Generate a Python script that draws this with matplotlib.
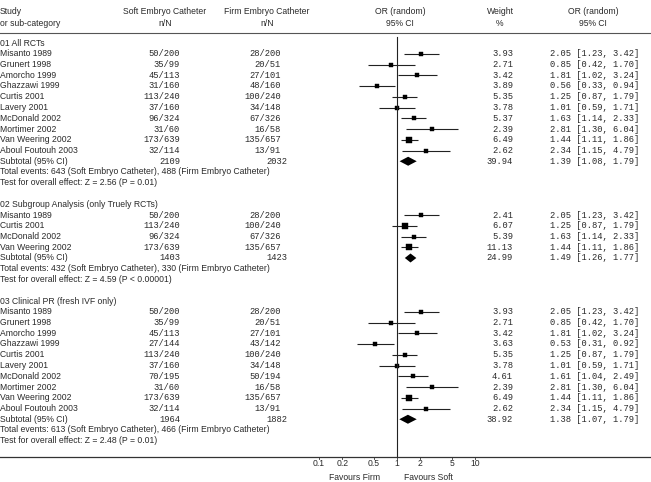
import matplotlib
matplotlib.use("Agg")
import matplotlib.pyplot as plt

# ---------------- data ----------------
s1_title = "01 All RCTs"
s1_studies = ["Misanto 1989", "Grunert 1998", "Amorcho 1999", "Ghazzawi 1999", "Curtis 2001",
              "Lavery 2001", "McDonald 2002", "Mortimer 2002", "Van Weering 2002", "Aboul Foutouh 2003"]
s1_soft = ["50/200", "35/99", "45/113", "31/160", "113/240", "37/160", "96/324", "31/60", "173/639", "32/114"]
s1_firm = ["28/200", "20/51", "27/101", "48/160", "100/240", "34/148", "67/326", "16/58", "135/657", "13/91"]
s1_weight = [3.93, 2.71, 3.42, 3.89, 5.35, 3.78, 5.37, 2.39, 6.49, 2.62]
s1_or = [2.05, 0.85, 1.81, 0.56, 1.25, 1.01, 1.63, 2.81, 1.44, 2.34]
s1_lo = [1.23, 0.42, 1.02, 0.33, 0.87, 0.59, 1.14, 1.30, 1.11, 1.15]
s1_hi = [3.42, 1.70, 3.24, 0.94, 1.79, 1.71, 2.33, 6.04, 1.86, 4.79]
s1_total = ["2109", "2032", 39.94, 1.39, 1.08, 1.79]
s1_events = "Total events: 643 (Soft Embryo Catheter), 488 (Firm Embryo Catheter)"
s1_test = "Test for overall effect: Z = 2.56 (P = 0.01)"

s2_title = "02 Subgroup Analysis (only Truely RCTs)"
s2_studies = ["Misanto 1989", "Curtis 2001", "McDonald 2002", "Van Weering 2002"]
s2_soft = ["50/200", "113/240", "96/324", "173/639"]
s2_firm = ["28/200", "100/240", "67/326", "135/657"]
s2_weight = [2.41, 6.07, 5.39, 11.13]
s2_or = [2.05, 1.25, 1.63, 1.44]
s2_lo = [1.23, 0.87, 1.14, 1.11]
s2_hi = [3.42, 1.79, 2.33, 1.86]
s2_total = ["1403", "1423", 24.99, 1.49, 1.26, 1.77]
s2_events = "Total events: 432 (Soft Embryo Catheter), 330 (Firm Embryo Catheter)"
s2_test = "Test for overall effect: Z = 4.59 (P < 0.00001)"

s3_title = "03 Clinical PR (fresh IVF only)"
s3_studies = ["Misanto 1989", "Grunert 1998", "Amorcho 1999", "Ghazzawi 1999", "Curtis 2001",
              "Lavery 2001", "McDonald 2002", "Mortimer 2002", "Van Weering 2002", "Aboul Foutouh 2003"]
s3_soft = ["50/200", "35/99", "45/113", "27/144", "113/240", "37/160", "70/195", "31/60", "173/639", "32/114"]
s3_firm = ["28/200", "20/51", "27/101", "43/142", "100/240", "34/148", "50/194", "16/58", "135/657", "13/91"]
s3_weight = [3.93, 2.71, 3.42, 3.63, 5.35, 3.78, 4.61, 2.39, 6.49, 2.62]
s3_or = [2.05, 0.85, 1.81, 0.53, 1.25, 1.01, 1.61, 2.81, 1.44, 2.34]
s3_lo = [1.23, 0.42, 1.02, 0.31, 0.87, 0.59, 1.04, 1.30, 1.11, 1.15]
s3_hi = [3.42, 1.70, 3.24, 0.92, 1.79, 1.71, 2.49, 6.04, 1.86, 4.79]
s3_total = ["1964", "1882", 38.92, 1.38, 1.07, 1.79]
s3_events = "Total events: 613 (Soft Embryo Catheter), 466 (Firm Embryo Catheter)"
s3_test = "Test for overall effect: Z = 2.48 (P = 0.01)"

axis_ticks = [0.1, 0.2, 0.5, 1, 2, 5, 10]
axis_ticklabels = ["0.1", "0.2", "0.5", "1", "2", "5", "10"]

sections = [
    (s1_title, s1_studies, s1_soft, s1_firm, s1_weight, s1_or, s1_lo, s1_hi, s1_total, s1_events, s1_test),
    (s2_title, s2_studies, s2_soft, s2_firm, s2_weight, s2_or, s2_lo, s2_hi, s2_total, s2_events, s2_test),
    (s3_title, s3_studies, s3_soft, s3_firm, s3_weight, s3_or, s3_lo, s3_hi, s3_total, s3_events, s3_test),
]

# ---------------- layout ----------------
W, H = 651, 482
fig = plt.figure(figsize=(W / 100, H / 100), dpi=100)
fig.patch.set_facecolor("white")
ax = fig.add_axes([0, 0, 1, 1])
ax.set_xlim(0, W)
ax.set_ylim(H, 0)
ax.axis("off")

PX_1 = 397.0
DEC = 78.0
x_lo_px = PX_1 - DEC
x_hi_px = PX_1 + DEC
fx = fig.add_axes([x_lo_px / W, 0, (x_hi_px - x_lo_px) / W, 1])
fx.set_xscale("log")
fx.set_xlim(0.1, 10)
fx.set_ylim(H, 0)
fx.axis("off")
fx.patch.set_alpha(0)

TXT = "#2a2a2a"
SANS = "Liberation Sans"
MONO = "Liberation Mono"
FS = 6.2
FM = 6.3

def st(x, y, s, ha="left", font=SANS, size=FS):
    ax.text(x, y, s, ha=ha, va="center", fontsize=size, family=font, color=TXT)

# headers
st(0, 12, "Study")
st(0, 23, "or sub-category")
st(165, 12, "Soft Embryo Catheter", ha="center")
st(165, 23, "n/N", ha="center")
st(267, 12, "Firm Embryo Catheter", ha="center")
st(267, 23, "n/N", ha="center")
st(400, 12, "OR (random)", ha="center")
st(400, 24, "95% CI", ha="center")
st(500, 12, "Weight", ha="center")
st(500, 24, "%", ha="center")
st(593, 12, "OR (random)", ha="center")
st(593, 24, "95% CI", ha="center")
ax.plot([0, W], [33, 33], color="#555555", lw=0.8)

Y0 = 43.0
STEP = 10.75

def ci_str(o, l, h):
    return f"{o:.2f} [{l:.2f}, {h:.2f}]"

row = 0
for (title, studies, soft, firm, wt, orv, lo, hi, tot, events, test) in sections:
    y = Y0 + row * STEP
    st(0, y, title)
    row += 1
    for i in range(len(studies)):
        y = Y0 + row * STEP
        st(0, y, studies[i])
        st(180, y, soft[i], ha="right", font=MONO, size=FM)
        st(281, y, firm[i], ha="right", font=MONO, size=FM)
        st(513, y, f"{wt[i]:.2f}", ha="right", font=MONO, size=FM)
        st(550, y, ci_str(orv[i], lo[i], hi[i]), font=MONO, size=FM)
        fx.plot([lo[i], hi[i]], [y, y], color="#222222", lw=0.8, solid_capstyle="butt")
        fx.plot([orv[i]], [y], marker="s", color="black", ms=2.3 + 0.22 * wt[i], mew=0.3, mec="black")
        row += 1
    y = Y0 + row * STEP
    st(0, y, "Subtotal (95% CI)")
    st(170, y, tot[0], ha="center", font=MONO, size=FM)
    st(277, y, tot[1], ha="center", font=MONO, size=FM)
    st(513, y, f"{tot[2]:.2f}", ha="right", font=MONO, size=FM)
    st(550, y, ci_str(tot[3], tot[4], tot[5]), font=MONO, size=FM)
    fx.fill([tot[4], tot[3], tot[5], tot[3]], [y, y - 4.5, y, y + 4.5], color="black", lw=0)
    row += 1
    st(0, Y0 + row * STEP, events)
    row += 1
    st(0, Y0 + row * STEP, test)
    row += 2

# vertical line of no effect
fx.plot([1, 1], [37, 457], color="#222222", lw=0.8, clip_on=False)

# bottom axis
AX_Y = 457
ax.plot([0, W], [AX_Y, AX_Y], color="#333333", lw=0.9)
for t, lab in zip(axis_ticks, axis_ticklabels):
    fx.plot([t, t], [AX_Y, AX_Y + 2], color="#333333", lw=0.6, clip_on=False)
    fx.text(t, 463, lab, ha="center", va="center", fontsize=FS, family=SANS, color=TXT, clip_on=False)
st(355, 477, "Favours Firm", ha="center")
st(428, 477, "Favours Soft", ha="center")

fig.savefig("out.png", dpi=100, facecolor="white")
